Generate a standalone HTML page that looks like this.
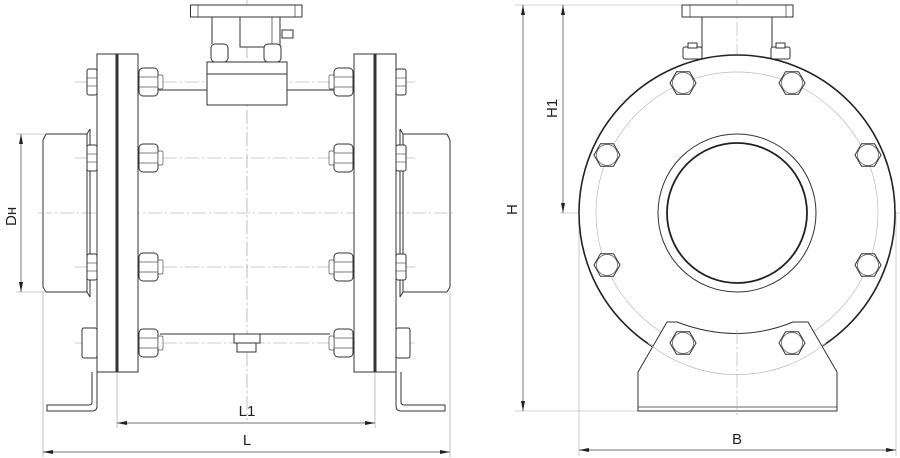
<!DOCTYPE html>
<html><head><meta charset="utf-8"><style>
html,body{margin:0;padding:0;background:#fff;width:900px;height:458px;overflow:hidden}
svg{display:block}
text{font-family:"Liberation Sans",sans-serif;fill:#222}
</style></head><body>
<svg width="900" height="458" viewBox="0 0 900 458" xmlns="http://www.w3.org/2000/svg">
<defs>
<marker id="a" viewBox="0 0 10 4" refX="10" refY="2" markerWidth="10" markerHeight="4" orient="auto-start-reverse" markerUnits="userSpaceOnUse"><path d="M0,0 L10,2 L0,4 z" fill="#222"/></marker>
<g id="hx"><polygon points="13,0 6.5,11.3 -6.5,11.3 -13,0 -6.5,-11.3 6.5,-11.3" fill="#fff" stroke="#333" stroke-width="1"/><circle r="10.5" fill="none" stroke="#555" stroke-width="0.7"/></g>
<g id="nutR"><rect x="0" y="-14" width="19" height="28" rx="4" fill="#fff" stroke="#333"/><line x1="0" y1="-5" x2="19" y2="-5" stroke="#555" stroke-width="0.7"/><line x1="0" y1="5" x2="19" y2="5" stroke="#555" stroke-width="0.7"/><rect x="19" y="-7" width="5" height="14" rx="1.5" fill="#fff" stroke="#555" stroke-width="0.7"/></g>
<g id="nutL"><rect x="-19" y="-14" width="19" height="28" rx="4" fill="#fff" stroke="#333"/><line x1="-19" y1="-5" x2="0" y2="-5" stroke="#555" stroke-width="0.7"/><line x1="-19" y1="5" x2="0" y2="5" stroke="#555" stroke-width="0.7"/><rect x="-24" y="-7" width="5" height="14" rx="1.5" fill="#fff" stroke="#555" stroke-width="0.7"/></g>
<g id="bh"><rect x="-10" y="-13" width="10" height="26" rx="2" fill="#fff" stroke="#333"/><line x1="-10" y1="-4" x2="0" y2="-4" stroke="#555" stroke-width="0.7"/><line x1="-10" y1="4" x2="0" y2="4" stroke="#555" stroke-width="0.7"/></g>
</defs>

<!-- ===== LEFT VIEW ===== -->
<g stroke="#999" stroke-width="0.6" fill="none">
<line x1="247" y1="0" x2="247" y2="420" stroke-dasharray="14 3 2 3"/>
<line x1="38" y1="213" x2="455" y2="213" stroke-dasharray="14 3 2 3"/>
<line x1="75" y1="82" x2="415" y2="82" stroke-dasharray="14 3 2 3"/>
<line x1="75" y1="158" x2="415" y2="158" stroke-dasharray="14 3 2 3"/>
<line x1="75" y1="267" x2="415" y2="267" stroke-dasharray="14 3 2 3"/>
<line x1="75" y1="343" x2="415" y2="343" stroke-dasharray="14 3 2 3"/>
</g>
<g stroke="#333" stroke-width="1" fill="#fff">
<path d="M90,129 L90,297 M46,134 L87,134 L90,129 M46,292 L87,292 L90,297"/>
<path d="M46,134 L43,140 L43,287 L46,292"/>
<line x1="87" y1="134" x2="87" y2="292"/>
<path d="M400,129 L400,297 M447,134 L403,134 L400,129 M447,292 L403,292 L400,297"/>
<path d="M447,134 L450,140 L450,287 L447,292"/>
<line x1="403" y1="134" x2="403" y2="292"/>
<path d="M92,372 L92,402 Q92,405 89,405 L47,405 L47,411 L92,411 Q97,411 97,406 L97,372" />
<path d="M401,372 L401,402 Q401,405 404,405 L445,405 L445,411 L401,411 Q396,411 396,406 L396,372" />
<line x1="138" y1="90" x2="207" y2="90"/>
<line x1="287" y1="90" x2="354" y2="90"/>
<line x1="160" y1="334" x2="330" y2="334"/>
<rect x="97" y="54" width="20" height="318"/>
<rect x="117" y="54" width="21" height="318"/>
<line x1="117" y1="54" x2="117" y2="372" stroke-width="3"/>
<rect x="354" y="54" width="21" height="318"/>
<rect x="375" y="54" width="21" height="318"/>
<line x1="375" y1="54" x2="375" y2="372" stroke-width="3"/>
<rect x="190.5" y="5" width="111.5" height="12"/>
<line x1="198" y1="5" x2="198" y2="17" stroke-width="0.7"/><line x1="295" y1="5" x2="295" y2="17" stroke-width="0.7"/>
<line x1="212" y1="17" x2="212" y2="44"/>
<rect x="240" y="17" width="40" height="30"/>
<line x1="272" y1="17" x2="272" y2="47" stroke-width="0.7"/>
<rect x="282" y="30" width="11" height="8"/>
<rect x="211" y="44" width="17" height="18" rx="4"/>
<rect x="264" y="44" width="17" height="18" rx="4"/>
<rect x="207" y="62" width="80" height="43"/>
<line x1="207" y1="74" x2="287" y2="74"/>
<rect x="234" y="334" width="26" height="9"/>
<rect x="237" y="343" width="19" height="9"/>
</g>
<use href="#nutR" x="139" y="82"/><use href="#nutR" x="139" y="158"/><use href="#nutR" x="139" y="267"/><use href="#nutR" x="139" y="343"/>
<use href="#nutL" x="353" y="82"/><use href="#nutL" x="353" y="158"/><use href="#nutL" x="353" y="267"/><use href="#nutL" x="353" y="343"/>
<use href="#bh" x="97" y="82"/><use href="#bh" x="97" y="158"/><use href="#bh" x="97" y="267"/>
<g transform="translate(97,343)"><rect x="-15" y="-15" width="15" height="30" rx="2" fill="#fff" stroke="#333"/></g>
<use href="#bh" x="406" y="82"/><use href="#bh" x="406" y="158"/><use href="#bh" x="406" y="267"/>
<g transform="translate(396,343)"><rect x="0" y="-15" width="14" height="30" rx="2" fill="#fff" stroke="#333"/></g>

<g stroke="#999" stroke-width="0.6" fill="none">
<line x1="16" y1="134" x2="45" y2="134"/><line x1="16" y1="292" x2="45" y2="292"/>
<line x1="117" y1="372" x2="117" y2="428"/><line x1="375" y1="372" x2="375" y2="428"/>
<line x1="43" y1="292" x2="43" y2="457"/><line x1="450" y1="292" x2="450" y2="457"/>
</g>
<g stroke="#444" stroke-width="0.7">
<line x1="21" y1="134" x2="21" y2="292" marker-start="url(#a)" marker-end="url(#a)"/>
<line x1="117" y1="423" x2="375" y2="423" marker-start="url(#a)" marker-end="url(#a)"/>
<line x1="43" y1="452" x2="450" y2="452" marker-start="url(#a)" marker-end="url(#a)"/>
</g>
<text font-size="15" transform="translate(16,226) rotate(-90)">Dн</text>
<text x="247" y="416" font-size="15" text-anchor="middle">L1</text>
<text x="247" y="445" font-size="15" text-anchor="middle">L</text>

<!-- ===== RIGHT VIEW ===== -->
<g stroke="#aaa" stroke-width="0.6" fill="none">
<line x1="737" y1="0" x2="737" y2="418" stroke-dasharray="14 3 2 3"/>
<line x1="560" y1="213" x2="900" y2="213"/>
<line x1="515" y1="5" x2="690" y2="5"/>
<line x1="515" y1="411" x2="638" y2="411"/>
<line x1="579" y1="213" x2="579" y2="456"/><line x1="896" y1="213" x2="896" y2="456"/>
</g>
<g stroke="#333" fill="#fff">
<rect x="682" y="5" width="111" height="12"/>
<line x1="690" y1="5" x2="690" y2="17" stroke-width="0.7"/><line x1="786" y1="5" x2="786" y2="17" stroke-width="0.7"/>
<line x1="702" y1="17" x2="702" y2="52"/><line x1="772" y1="17" x2="772" y2="52"/>
<rect x="683" y="47" width="19" height="12" rx="2"/><rect x="771" y="47" width="19" height="12" rx="2"/>
<rect x="688" y="43" width="9" height="5"/><rect x="776" y="43" width="9" height="5"/>
<circle cx="737" cy="213" r="158" stroke-width="1.6" stroke="#222"/>
</g>
<circle cx="737" cy="213" r="141" fill="none" stroke="#bbb" stroke-width="0.7"/>
<circle cx="737" cy="213" r="79" fill="none" stroke="#333" stroke-width="1"/>
<circle cx="737" cy="213" r="70" fill="none" stroke="#222" stroke-width="1.8"/>
<path d="M638,372 L667,322 L677,322 Q737,345 793,322 L808,322 L837,372 L837,411 L638,411 Z" fill="#fff" stroke="#333"/>
<line x1="638" y1="407" x2="837" y2="407" stroke="#333" stroke-width="0.8"/>
<path d="M648,343 A141,141 0 0 0 826,343" fill="none" stroke="#bbb" stroke-width="0.7"/>
<line x1="737" y1="330" x2="737" y2="418" stroke="#aaa" stroke-width="0.6" stroke-dasharray="14 3 2 3"/>
<use href="#hx" x="683" y="83"/><use href="#hx" x="792" y="83"/>
<use href="#hx" x="607" y="155"/><use href="#hx" x="868" y="155"/>
<use href="#hx" x="607" y="265"/><use href="#hx" x="868" y="265"/>
<use href="#hx" x="683" y="343"/><use href="#hx" x="792" y="343"/>
<g stroke="#444" stroke-width="0.7">
<line x1="523" y1="5" x2="523" y2="411" marker-start="url(#a)" marker-end="url(#a)"/>
<line x1="563" y1="5" x2="563" y2="213" marker-start="url(#a)" marker-end="url(#a)"/>
<line x1="579" y1="450" x2="896" y2="450" marker-start="url(#a)" marker-end="url(#a)"/>
</g>
<text font-size="15" transform="translate(517,215) rotate(-90)">H</text>
<text font-size="15" transform="translate(557,118) rotate(-90)">H1</text>
<text x="737" y="444" font-size="15" text-anchor="middle">B</text>
</svg>
</body></html>
